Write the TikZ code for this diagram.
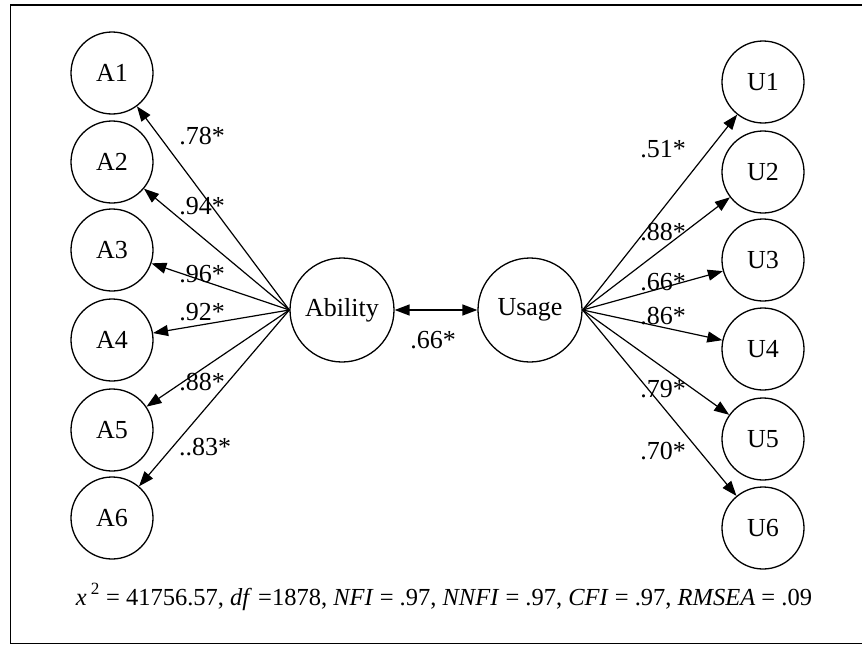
\documentclass[tikz,border=0pt]{standalone}
\usepackage{fontspec}
\setmainfont{Liberation Serif}
\usetikzlibrary{arrows.meta}
\begin{document}
\begin{tikzpicture}[x=1pt,y=-1pt,
  every node/.style={font=\fontsize{26}{30}\selectfont},
  ind/.style={draw,circle,line width=1.3pt,minimum size=82pt,inner sep=0pt},
  lat/.style={draw,circle,line width=1.3pt,minimum size=104pt,inner sep=0pt},
  load/.style={line width=1.2pt,-{Triangle[length=15pt,width=11pt]}},
  lab/.style={inner sep=0pt}]
\useasboundingbox (0,0) rectangle (862,645);
\draw[line width=1.3pt] (862,5) -- (10.5,5) -- (10.5,643.5) -- (862,643.5);
% latent
\node[lat] (ab) at (342,310) {Ability};
\node[lat] (us) at (530,310) {Usage};
% indicators
\node[ind] (a1) at (112,73) {A1};
\node[ind] (a2) at (112,162) {A2};
\node[ind] (a3) at (112,250) {A3};
\node[ind] (a4) at (112,340) {A4};
\node[ind] (a5) at (112,430) {A5};
\node[ind] (a6) at (112,518) {A6};
\node[ind] (u1) at (763,82) {U1};
\node[ind] (u2) at (763,172) {U2};
\node[ind] (u3) at (763,260) {U3};
\node[ind] (u4) at (763,349) {U4};
\node[ind] (u5) at (763,439) {U5};
\node[ind] (u6) at (763,528) {U6};
% loadings
\foreach \n in {a1,a2,a3,a4,a5,a6} \draw[load] (ab.west) -- (\n);
\foreach \n in {u1,u2,u3,u4,u5,u6} \draw[load] (us.east) -- (\n);
\draw[line width=1.4pt,{Triangle[length=15pt,width=11pt]}-{Triangle[length=15pt,width=11pt]}] (ab) -- (us);
% labels
\node[lab] (l1) at (202,136) {.78*};
\node[lab] (l2) at (202,206) {.94*};
\node[lab] (l3) at (202,274) {.96*};
\node[lab] (l4) at (202,312) {.92*};
\node[lab] (l5) at (202,382) {.88*};
\node[lab] (l6) at (205,447) {..83*};
\node[lab] (lc) at (433,340) {.66*};
\node[lab] (m1) at (663,149) {.51*};
\node[lab] (m2) at (663,232) {.88*};
\node[lab] (m3) at (663,282) {.66*};
\node[lab] (m4) at (663,316) {.86*};
\node[lab] (m5) at (663,389) {.79*};
\node[lab] (m6) at (663,451) {.70*};
% fit indices
\node[lab,font=\fontsize{24.5}{29}\selectfont] (fit) at (444,597) {\textit{x}\,\raisebox{0.2ex}{\textsuperscript{2}} = 41756.57, \textit{df} =1878, \textit{NFI} = .97, \textit{NNFI} = .97, \textit{CFI} = .97, \textit{RMSEA} = .09};
\end{tikzpicture}
\end{document}
